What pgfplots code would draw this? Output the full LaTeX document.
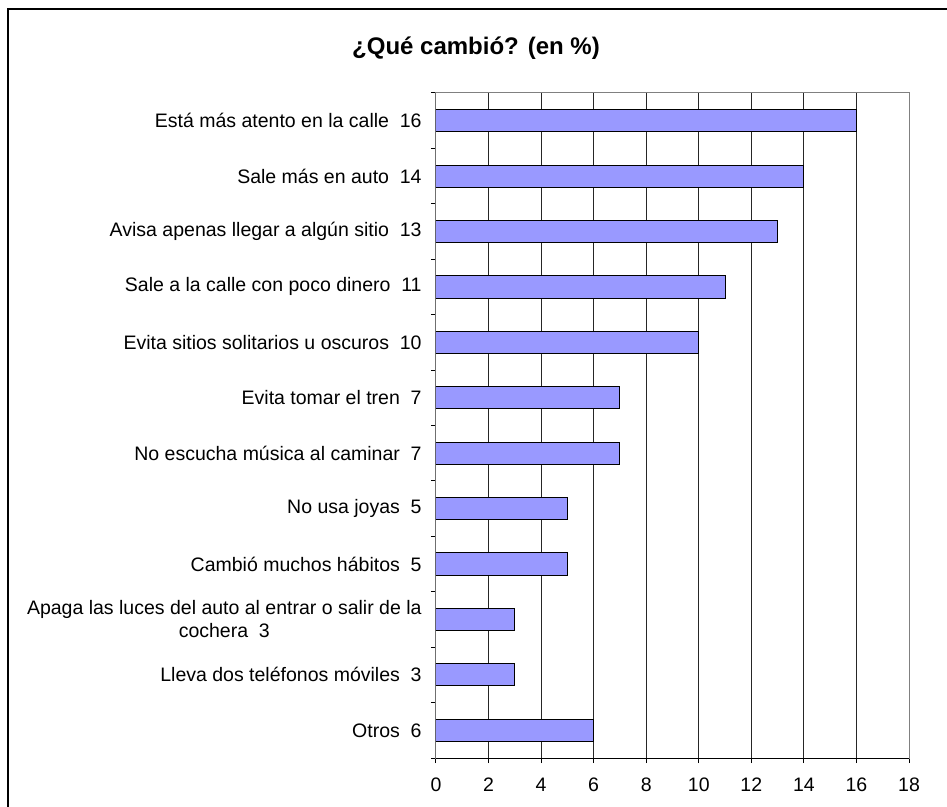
\documentclass[border=0pt]{standalone}
\usepackage{fontspec}
\setmainfont{Liberation Sans}
\usepackage{pgfplots}
\pgfplotsset{compat=1.18}
\definecolor{barfill}{RGB}{153,153,255}
\definecolor{plotframe}{RGB}{128,128,128}

\begin{document}
\begin{tikzpicture}
\useasboundingbox (0,0) rectangle (473.5pt,-403.5pt);
\clip (0,0) rectangle (473.5pt,-403.5pt);
% outer chart frame (cut off on the right and bottom, as in the original)
\draw[line width=0.8pt] (4pt,-4.5pt) rectangle (490pt,-420pt);
\node[font=\bfseries\fontsize{12}{14}\selectfont] at (238pt,-24pt) {¿Qué cambió? (en \%)};
\begin{axis}[
  at={(218pt,-379pt)}, anchor=south west,
  scale only axis,
  width=236.5pt, height=332.5pt,
  xbar, bar width=0.4,
  xmin=0, xmax=18, ymin=-0.5, ymax=11.5,
  xtick={0,2,...,18},
  ytick={0,...,11},
  minor ytick={-0.5,0.5,...,11.5},
  yticklabels={Otros~~6,
    Lleva dos teléfonos móviles~~3,
    {Apaga las luces del auto al entrar o salir de la\\cochera~~3},
    Cambió muchos hábitos~~5,
    No usa joyas~~5,
    No escucha música al caminar~~7,
    Evita tomar el tren~~7,
    Evita sitios solitarios u oscuros~~10,
    Sale a la calle con poco dinero~~11,
    Avisa apenas llegar a algún sitio~~13,
    Sale más en auto~~14,
    Está más atento en la calle~~16},
  xtick pos=bottom, ytick pos=left,
  tick align=outside,
  major tick length=2.5pt, minor tick length=2.5pt,
  major y tick style={draw=none},
  tick style={black, line width=0.5pt},
  xmajorgrids,
  major grid style={black!85, line width=0.5pt},
  axis line style={draw=plotframe, line width=0.5pt},
  ticklabel style={font=\fontsize{9.75}{11.5}\selectfont},
  yticklabel style={align=center, anchor=east, inner sep=0pt, xshift=-4.5pt},
  xticklabel style={inner sep=0pt, text height=7pt, text depth=0pt, yshift=-7pt},
  /pgf/number format/assume math mode=true,
]
\addplot[fill=barfill, draw=black, line width=0.5pt] coordinates {
  (6,0) (3,1) (3,2) (5,3) (5,4) (7,5) (7,6) (10,7) (11,8) (13,9) (14,10) (16,11)};
\draw[black, line width=0.5pt] (rel axis cs:0,1) -- (rel axis cs:0,0) -- (rel axis cs:1,0);
\end{axis}
\end{tikzpicture}
\end{document}
